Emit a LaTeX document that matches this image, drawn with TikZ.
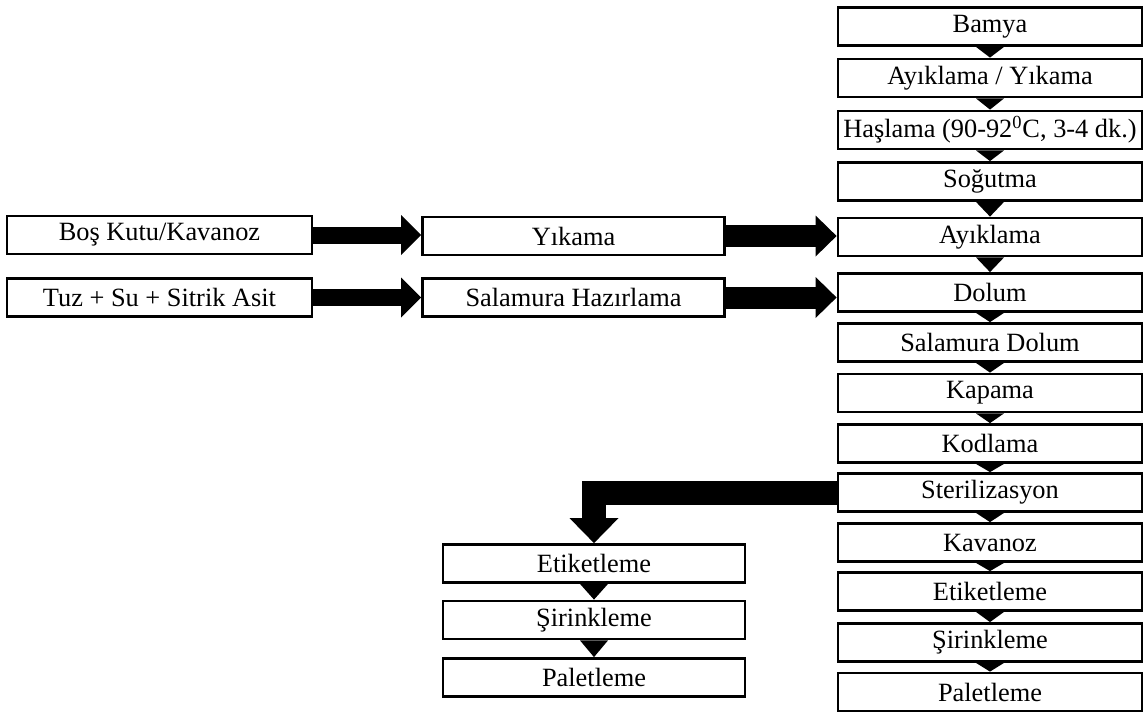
\documentclass[tikz,border=0pt]{standalone}
\usepackage{fontspec}
\setmainfont{Liberation Serif}
\usetikzlibrary{arrows.meta,calc}
\tikzset{
  box/.style={draw=black,fill=white,line width=1.6pt,minimum width=#1,minimum height=0.76cm,
    inner sep=0pt,align=center},
  box/.default=6.08cm,
  fatarr/.style args={#1/#2/#3}{line width=#1,draw=black,
    -{Triangle[length=#3,width=#2,line width=0pt]}},
}

\begin{document}
\begin{tikzpicture}[font=\fontsize{15}{18}\selectfont]
        \useasboundingbox (0,0) rectangle (22.88,-14.22);
        \foreach \nm/\yy/\txt in {bamya/-0.53/Bamya,ayik1/-1.56/{Ayıklama / Yıkama},
                                  hasla/-2.60/{Haşlama (90-92\textsuperscript{0}C, 3-4 dk.)},
                                  sogut/-3.63/Soğutma,ayik2/-4.74/Ayıklama,dolum/-5.85/Dolum,
                                  saldol/-6.85/Salamura Dolum,kapa/-7.86/Kapama,kodla/-8.87/Kodlama,
                                  steril/-9.85/Sterilizasyon,kavan/-10.85/Kavanoz,etik/-11.83/Etiketleme,
                                  sirin/-12.85/Şirinkleme,palet/-13.84/Paletleme}
          \node[box] (\nm) at (19.8,\yy) {\txt};
        \node[box=6.1cm] (bosk) at (3.19,-4.70) {Boş Kutu/Kavanoz};
        \node[box=6.1cm] (tuz) at (3.19,-5.95) {Tuz + Su + Sitrik Asit};
        \node[box=6.04cm] (yika) at (11.47,-4.72) {Yıkama};
        \node[box=6.04cm] (salhaz) at (11.47,-5.95) {Salamura Hazırlama};
        \node[box=6.04cm] (etik2) at (11.88,-11.27) {Etiketleme};
        \node[box=6.04cm] (sirin2) at (11.88,-12.40) {Şirinkleme};
        \node[box=6.04cm] (palet2) at (11.88,-13.55) {Paletleme};
        \foreach \a/\b in {bamya/ayik1,ayik1/hasla,hasla/sogut,sogut/ayik2,ayik2/dolum,dolum/saldol,
                           saldol/kapa,kapa/kodla,kodla/steril,steril/kavan,kavan/etik,etik/sirin,
                           sirin/palet,etik2/sirin2,sirin2/palet2}
          \fill ($(\a.south)+(-0.28,0)$) -- ($(\a.south)+(0.28,0)$) -- (\b.north) -- cycle;
        \draw[fatarr=0.34cm/0.8cm/0.4cm] (bosk.east) -- (bosk.east -| yika.west);
        \draw[fatarr=0.34cm/0.8cm/0.4cm] (tuz.east) -- (tuz.east -| salhaz.west);
        \draw[fatarr=0.44cm/0.82cm/0.42cm] (yika.east) -- (yika.east -| ayik2.west);
        \draw[fatarr=0.44cm/0.82cm/0.42cm] (salhaz.east) -- (salhaz.east -| dolum.west);
        \draw[fatarr=0.48cm/0.98cm/0.5cm] (steril.west) -| (etik2.north);
      \end{tikzpicture}
\end{document}
